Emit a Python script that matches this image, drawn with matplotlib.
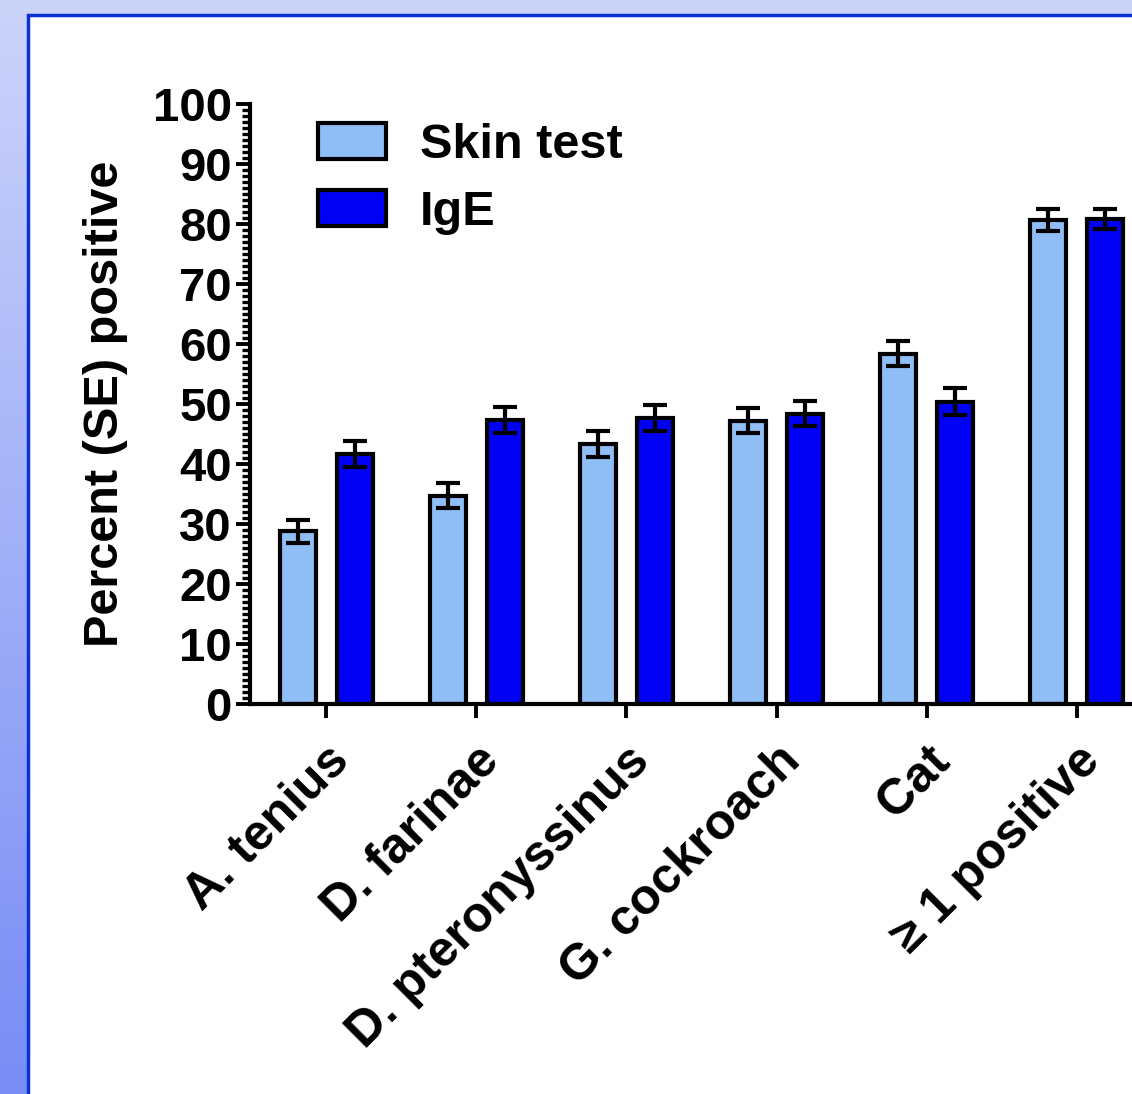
import numpy as np
import matplotlib
matplotlib.use("Agg")
import matplotlib.pyplot as plt
from matplotlib.patches import Rectangle
from matplotlib.ticker import MultipleLocator

plt.rcParams['font.family'] = ['Liberation Sans', 'DejaVu Sans']
plt.rcParams['font.weight'] = 'bold'

# data
categories = ["A. tenius", "D. farinae", "D. pteronyssinus", "G. cockroach", "Cat", "\u2265 1 positive"]
skin = [28.8, 34.7, 43.3, 47.2, 58.4, 80.7]
skin_se = [1.9, 2.1, 2.2, 2.1, 2.1, 1.8]
ige = [41.7, 47.3, 47.7, 48.4, 50.4, 80.8]
ige_se = [2.2, 2.2, 2.2, 2.1, 2.2, 1.7]

W, H = 1132, 1094
fig = plt.figure(figsize=(W / 100, H / 100), dpi=100)

# slide background: vertical blue gradient, white panel with blue border
bg = fig.add_axes([0, 0, 1, 1], zorder=-10)
grad = np.linspace(0, 1, 256).reshape(-1, 1)
top = np.array([0.80, 0.83, 0.98])
bot = np.array([0.47, 0.55, 0.96])
img = top + (bot - top) * grad[:, :, None]
bg.imshow(img, aspect='auto', extent=[0, 1, 0, 1], origin='upper')
bg.add_patch(Rectangle((28 / W, -0.1), 1.2, (H - 15) / H + 0.1,
                       facecolor='white', edgecolor='#0a32d2', linewidth=2.5,
                       transform=bg.transAxes))
bg.set_xlim(0, 1)
bg.set_ylim(0, 1)
bg.axis('off')

# chart axes (runs off the right edge like the original)
ax = fig.add_axes([250 / W, (H - 704) / H, 902 / W, 600 / H])
ax.set_facecolor('none')

x = np.arange(len(categories))
off = 0.19
bw = 0.24
lw = 3.0
ekw = dict(elinewidth=lw, capthick=lw, ecolor='black')
ax.bar(x - off, skin, bw, yerr=skin_se, capsize=8.5, color='#8fbdf5',
       edgecolor='black', linewidth=lw, error_kw=ekw, label='Skin test')
ax.bar(x + off, ige, bw, yerr=ige_se, capsize=8.5, color='#0000f5',
       edgecolor='black', linewidth=lw, error_kw=ekw, label='IgE')

ax.set_xlim(-0.507, 5.5)
ax.set_ylim(0, 100)
ax.yaxis.set_major_locator(MultipleLocator(10))
ax.yaxis.set_minor_locator(MultipleLocator(1))

for s in ['top', 'right']:
    ax.spines[s].set_visible(False)
for s in ['left', 'bottom']:
    ax.spines[s].set_linewidth(3.0)

ax.tick_params(axis='y', which='major', length=10, width=2.8, labelsize=34, pad=3)
ax.tick_params(axis='y', which='minor', length=6, width=2.4)
ax.tick_params(axis='x', which='major', length=10, width=2.8, labelsize=36, pad=14)

ax.set_xticks(x)
ax.set_xticklabels(categories, rotation=45, ha='right', va='top',
                   rotation_mode='anchor', fontweight='bold')
for lab in ax.get_yticklabels():
    lab.set_fontweight('bold')

ax.set_ylabel("Percent (SE) positive", fontsize=35, fontweight='bold', labelpad=18)

ax.legend(loc='upper left', bbox_to_anchor=(0.043, 1.017), frameon=False,
          handlelength=1.4, handleheight=0.76,
          handletextpad=0.7, labelspacing=0.45, borderpad=0.1,
          prop={'weight': 'bold', 'size': 35})

fig.savefig("out.png", dpi=100)
